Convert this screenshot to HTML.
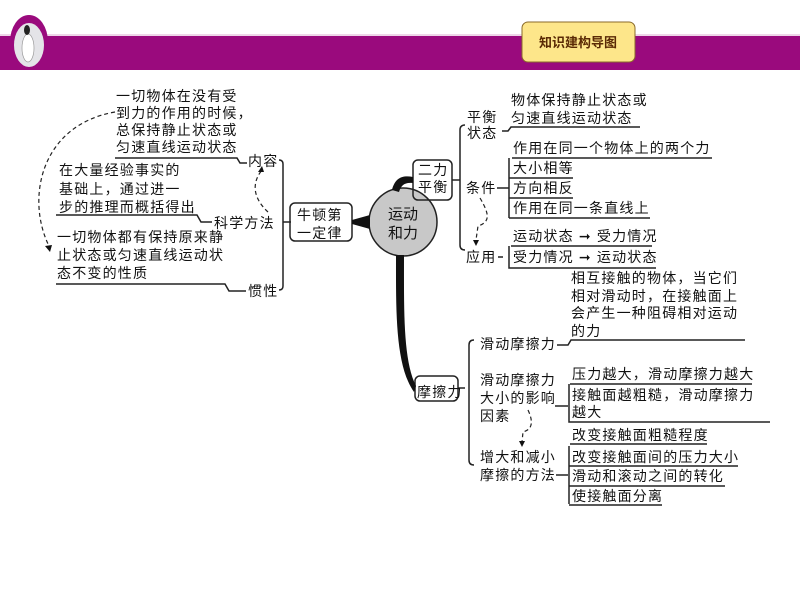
<!DOCTYPE html>
<html><head><meta charset="utf-8"><style>
body{margin:0;width:800px;height:600px;background:#fff;position:relative;overflow:hidden;font-family:"Liberation Sans","Noto Sans CJK SC",sans-serif;}
.t{position:absolute;font-size:14px;line-height:20px;letter-spacing:1.2px;color:#111;white-space:nowrap;margin-top:0px;}
svg{position:absolute;left:0;top:0;}
</style></head><body>
<svg width="800" height="600">
<rect x="0" y="36" width="800" height="34" fill="#9a0a7d"/>
<line x1="0" y1="35" x2="800" y2="35" stroke="#e9c8e0" stroke-width="1.5"/>
<ellipse cx="29" cy="42" rx="19" ry="27" fill="#9a0a7d"/>
<ellipse cx="29" cy="45" rx="15" ry="22" fill="#e4e4e8"/>
<ellipse cx="28" cy="48" rx="6" ry="14" fill="#fff" stroke="#999" stroke-width="0.7"/>
<ellipse cx="27" cy="30" rx="3" ry="5" fill="#222"/>
<rect x="522" y="22" width="113" height="40" rx="6" fill="#fde68a" stroke="#8a6a2a" stroke-width="1"/>
<text x="578" y="47" font-size="13" font-weight="bold" fill="#5a2a05" text-anchor="middle" font-family="Liberation Sans, Noto Sans CJK SC, sans-serif">知识建构导图</text>
<g fill="none" stroke="#222" stroke-width="1.5">
<polyline points="115,158 237,158 240,163 247,163"/>
<polyline points="56,215 197,215 201,222 212,222"/>
<polyline points="56,284 225,284 229,291 246,291"/>
<path d="M279,160 q4,0 4,4 v122 q0,4 -4,4"/>
<line x1="283" y1="222" x2="291" y2="222"/>
<rect x="290" y="203" width="62" height="38" rx="5"/>
<circle cx="403" cy="222" r="34" fill="#c8c8c8"/>
<rect x="413" y="160" width="39" height="40" rx="5"/>
<line x1="452" y1="180" x2="460" y2="180"/>
<path d="M465,125 q-5,0 -5,5 v115 q0,5 5,5"/>
<polyline points="502,131 508,131 511,127 640,127"/>
<line x1="497" y1="188" x2="509" y2="188"/>
<polyline points="512,158 712,158"/>
<path d="M509,158 v60"/>
<line x1="509" y1="178" x2="573" y2="178"/>
<line x1="509" y1="198" x2="573" y2="198"/>
<line x1="509" y1="218" x2="650" y2="218"/>
<line x1="511" y1="246" x2="652" y2="246"/>
<path d="M498,257 h5 M509,246 v22 h147"/>
<rect x="415" y="376" width="43" height="25" rx="5"/>
<line x1="458" y1="388" x2="465" y2="388"/>
<path d="M474,340 q-5,0 -5,5 v115 q0,5 5,5"/>
<polyline points="557,345 568,345 571,340 745,340"/>
<line x1="555" y1="406" x2="568" y2="406"/>
<line x1="570" y1="384" x2="752" y2="384"/>
<path d="M569,384 v38 h201"/>
<line x1="570" y1="444" x2="707" y2="444"/>
<line x1="556" y1="475" x2="568" y2="475"/>
<path d="M569,446 v58"/>
<line x1="569" y1="466" x2="738" y2="466"/>
<line x1="569" y1="486" x2="725" y2="486"/>
<line x1="569" y1="505" x2="662" y2="505"/>
</g>
<g fill="#111">
<path d="M352,220 L370,215 L370,229 L352,224 Z"/>
<path d="M392,190 C395,178 402,175 413,177 L413,183 C405,182 401,185 399,192 Z"/>
<path d="M396,255 L404,255 C404,310 403,360 416,386 L414,392 C395,365 396,310 396,255 Z"/>
</g>
<g fill="none" stroke="#222" stroke-width="1.2" stroke-dasharray="4,3">
<path d="M115,112 C40,125 25,200 50,248"/>
<path d="M268,212 C255,200 250,185 262,170"/>
<path d="M480,198 C490,215 490,222 478,226 L476,240"/>
<path d="M528,410 C535,425 530,430 523,432 L522,442"/>
</g>
<g fill="#111">
<path d="M50,252 l-5,-6 l7,-1 z"/><path d="M262,166 l-4,6 l6,0 z"/>
<path d="M476,246 l-3,-6 l6,0 z"/><path d="M522,447 l-3,-6 l6,0 z"/>
</g>
<text x="403" y="219" font-size="15" text-anchor="middle" fill="#111" font-family="Liberation Sans, Noto Sans CJK SC, sans-serif">运动</text>
<text x="403" y="238" font-size="15" text-anchor="middle" fill="#111" font-family="Liberation Sans, Noto Sans CJK SC, sans-serif">和力</text>
</svg>
<div class="t" style="left:116px;top:87.5px;line-height:17px">一切物体在没有受<br>到力的作用的时候，<br>总保持静止状态或<br>匀速直线运动状态</div>
<div class="t" style="left:248px;top:151px">内容</div>
<div class="t" style="left:59px;top:161px;line-height:18.5px">在大量经验事实的<br>基础上，通过进一<br>步的推理而概括得出</div>
<div class="t" style="left:214px;top:213px">科学方法</div>
<div class="t" style="left:57px;top:228px;line-height:18px">一切物体都有保持原来静<br>止状态或匀速直线运动状<br>态不变的性质</div>
<div class="t" style="left:248px;top:281px">惯性</div>
<div class="t" style="left:297px;top:206px;line-height:18px">牛顿第<br>一定律</div>
<div class="t" style="left:418px;top:162px;line-height:17px">二力<br>平衡</div>
<div class="t" style="left:467px;top:109px;line-height:16px">平衡<br>状态</div>
<div class="t" style="left:511px;top:91px;line-height:18px">物体保持静止状态或<br>匀速直线运动状态</div>
<div class="t" style="left:466px;top:178px">条件</div>
<div class="t" style="left:513px;top:138px">作用在同一个物体上的两个力</div>
<div class="t" style="left:513px;top:158px">大小相等</div>
<div class="t" style="left:513px;top:178px">方向相反</div>
<div class="t" style="left:513px;top:198px">作用在同一条直线上</div>
<div class="t" style="left:466px;top:247px">应用</div>
<div class="t" style="left:513px;top:226px">运动状态 ➞ 受力情况</div>
<div class="t" style="left:513px;top:247px">受力情况 ➞ 运动状态</div>
<div class="t" style="left:417px;top:382px">摩擦力</div>
<div class="t" style="left:480px;top:334px">滑动摩擦力</div>
<div class="t" style="left:571px;top:270px;line-height:17.7px">相互接触的物体，当它们<br>相对滑动时，在接触面上<br>会产生一种阻碍相对运动<br>的力</div>
<div class="t" style="left:480px;top:371px;line-height:18px">滑动摩擦力<br>大小的影响<br>因素</div>
<div class="t" style="left:572px;top:364px">压力越大，滑动摩擦力越大</div>
<div class="t" style="left:572px;top:387px;line-height:17px">接触面越粗糙，滑动摩擦力<br>越大</div>
<div class="t" style="left:480px;top:448px;line-height:18px">增大和减小<br>摩擦的方法</div>
<div class="t" style="left:572px;top:425px">改变接触面粗糙程度</div>
<div class="t" style="left:572px;top:447px">改变接触面间的压力大小</div>
<div class="t" style="left:572px;top:466px">滑动和滚动之间的转化</div>
<div class="t" style="left:572px;top:486px">使接触面分离</div>
</body></html>
